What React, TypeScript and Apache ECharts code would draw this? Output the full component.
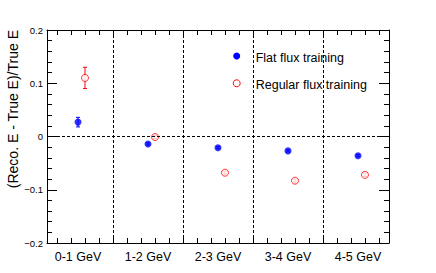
import React, { useEffect, useRef } from "react";
import * as echarts from "echarts";

const categories = ["0-1 GeV", "1-2 GeV", "2-3 GeV", "3-4 GeV", "4-5 GeV"];
const flatValues = [0.027, -0.014, -0.021, -0.027, -0.036];
const flatErrors = [0.009, 0.002, 0.002, 0.002, 0.002];
const regularValues = [0.11, -0.001, -0.068, -0.083, -0.072];
const regularErrors = [0.02, 0.003, 0.003, 0.003, 0.003];
const yTicks = [-0.2, -0.1, 0, 0.1, 0.2];
const binEdges = [1, 2, 3, 4];

const FLAT_OFFSET = 0.5;
const REG_OFFSET = 0.6;
const FONT = "'Liberation Sans', Arial, Helvetica, sans-serif";
const BLUE = "#0000ff";
const RED = "#ff0000";

const xTickValues: number[] = [];
for (let i = 1; i < 25; i++) xTickValues.push(Math.round(i * 0.2 * 10) / 10);

function errorBarRender(color: string) {
  return (params: any, api: any) => {
    const x = api.value(0);
    const y = api.value(1);
    const e = api.value(2);
    const top = api.coord([x, y + e]);
    const bot = api.coord([x, y - e]);
    const style = { stroke: color, lineWidth: 1 };
    return {
      type: "group",
      children: [
        { type: "line", shape: { x1: top[0], y1: top[1], x2: bot[0], y2: bot[1] }, style },
        { type: "line", shape: { x1: top[0] - 2, y1: top[1], x2: top[0] + 2, y2: top[1] }, style },
        { type: "line", shape: { x1: bot[0] - 2, y1: bot[1], x2: bot[0] + 2, y2: bot[1] }, style },
      ],
    };
  };
}

export default function App() {
  const ref = useRef<HTMLDivElement>(null);
  useEffect(() => {
    if (!ref.current) return;
    const chart = echarts.init(ref.current, undefined, { renderer: "svg" });
    const flatData = flatValues.map((v, i) => [i + FLAT_OFFSET, v, flatErrors[i]]);
    const regData = regularValues.map((v, i) => [i + REG_OFFSET, v, regularErrors[i]]);
    const xCommon = {
      type: "value",
      min: 0.057,
      max: 4.943,
      splitLine: { show: false },
      axisLine: { show: true, onZero: false, lineStyle: { color: "#000", width: 1 } },
      axisTick: { show: true, inside: true, length: 5, customValues: xTickValues, lineStyle: { color: "#000" } },
      minorTick: { show: false },
    };
    const yCommon = {
      type: "value",
      min: -0.2,
      max: 0.2,
      interval: 0.1,
      splitLine: { show: false },
      axisLine: { show: true, onZero: false, lineStyle: { color: "#000", width: 1 } },
      axisTick: { show: true, inside: true, length: 10, lineStyle: { color: "#000" } },
      minorTick: { show: true, splitNumber: 5, length: 5, lineStyle: { color: "#000" } },
    };
    chart.setOption({
      animation: false,
      backgroundColor: "#fff",
      grid: { left: 47, right: 47, top: 30, bottom: 30 },
      xAxis: [
        {
          ...xCommon,
          position: "bottom",
          axisLabel: {
            show: true,
            customValues: categories.map((_, i) => i + 0.5),
            formatter: (v: number) => categories[Math.floor(v)] ?? "",
            fontSize: 12.5,
            fontFamily: FONT,
            color: "#000",
            margin: 7,
          },
        },
        { ...xCommon, position: "top", axisLabel: { show: false } },
      ],
      yAxis: [
        {
          ...yCommon,
          position: "left",
          axisLabel: {
            show: true,
            customValues: yTicks,
            formatter: (v: number) => {
              const s = Math.abs(v) < 1e-9 ? "0" : String(Math.round(v * 10) / 10);
              return s.replace("-", "\u2212");
            },
            fontSize: 9.5,
            fontFamily: FONT,
            color: "#000",
            margin: 4,
          },
        },
        { ...yCommon, position: "right", axisLabel: { show: false } },
      ],
      series: [
        {
          name: "Flat flux errors",
          type: "custom",
          renderItem: errorBarRender(BLUE),
          encode: { x: 0, y: 1 },
          data: flatData,
          z: 2,
          silent: true,
          markLine: {
            silent: true,
            symbol: ["none", "none"],
            label: { show: false },
            lineStyle: { color: "#000", width: 1, type: [3, 2] },
            data: [...binEdges.map((b) => ({ xAxis: b })), { yAxis: 0 }],
          },
        },
        {
          name: "Regular flux errors",
          type: "custom",
          renderItem: errorBarRender(RED),
          encode: { x: 0, y: 1 },
          data: regData,
          z: 2,
          silent: true,
        },
        {
          name: "Flat flux training",
          type: "scatter",
          symbol: "circle",
          symbolSize: 7,
          itemStyle: { color: BLUE },
          data: flatData.map((d) => [d[0], d[1]]),
          z: 3,
        },
        {
          name: "Regular flux training",
          type: "scatter",
          symbol: "circle",
          symbolSize: 7,
          itemStyle: { color: "#fff", borderColor: RED, borderWidth: 1 },
          data: regData.map((d) => [d[0], d[1]]),
          z: 3,
        },
      ],
      graphic: [
        {
          type: "text",
          x: 13,
          y: 30,
          rotation: Math.PI / 2,
          style: {
            text: "(Reco. E - True E)/True E",
            font: `14px ${FONT}`,
            fill: "#000",
            align: "right",
            verticalAlign: "middle",
          },
        },
        { type: "circle", shape: { cx: 236.7, cy: 56, r: 3.5 }, style: { fill: BLUE } },
        { type: "text", x: 255.7, y: 57.5, style: { text: "Flat flux training", font: `12.5px ${FONT}`, fill: "#000", verticalAlign: "middle" } },
        { type: "circle", shape: { cx: 236.7, cy: 83.3, r: 3.5 }, style: { fill: "#fff", stroke: RED, lineWidth: 1 } },
        { type: "text", x: 255.7, y: 84.5, style: { text: "Regular flux training", font: `12.5px ${FONT}`, fill: "#000", verticalAlign: "middle" } },
      ],
    });
    return () => chart.dispose();
  }, []);
  return <div ref={ref} style={{ position: "absolute", left: 0, top: 0, width: 436, height: 273 }} />;
}
